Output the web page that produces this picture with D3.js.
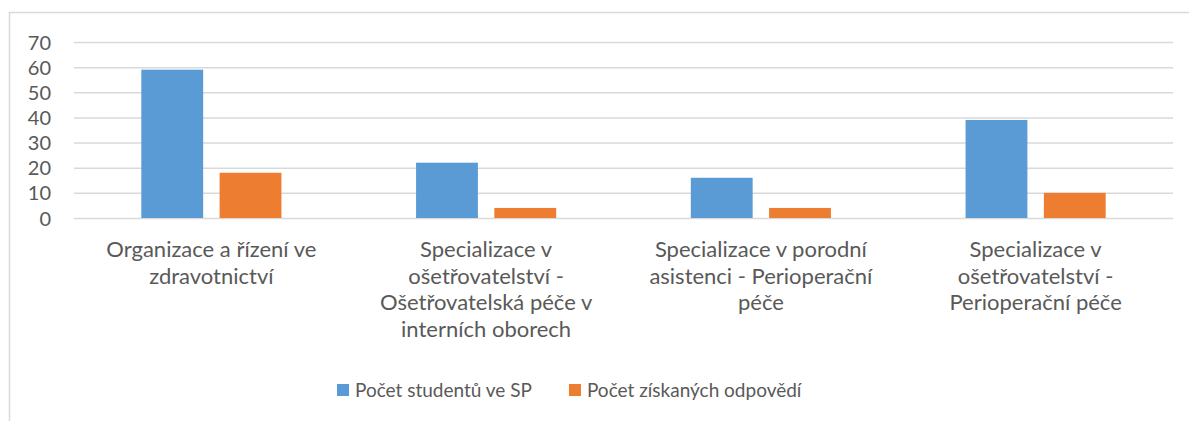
<!DOCTYPE html>
<html>
<head>
<meta charset="utf-8">
<script src="https://cdn.jsdelivr.net/npm/d3@7"></script>
<style>
  body { margin: 0; background: #fff; }
  text { font-family: Lato, "Open Sans", sans-serif; fill: #595959; }
</style>
</head>
<body>
<div id="chart"></div>
<script>
const width = 1189;
const height = 421;

const categories = [
  "Organizace a řízení ve zdravotnictví",
  "Specializace v ošetřovatelství - Ošetřovatelská péče v interních oborech",
  "Specializace v porodní asistenci - Perioperační péče",
  "Specializace v ošetřovatelství - Perioperační péče"
]
const categoryLines = [
  ["Organizace a řízení ve", "zdravotnictví"],
  ["Specializace v", "ošetřovatelství -", "Ošetřovatelská péče v", "interních oborech"],
  ["Specializace v porodní", "asistenci - Perioperační", "péče"],
  ["Specializace v", "ošetřovatelství -", "Perioperační péče"]
]
const seriesNames = ["Počet studentů ve SP", "Počet získaných odpovědí"]
const studenti = [59, 22, 16, 39]
const odpovedi = [18, 4, 4, 10]
const yTicks = [0, 10, 20, 30, 40, 50, 60, 70]
const colors = ["#5B9BD5", "#ED7D31"]

const margin = { top: 42, right: 16, bottom: 203, left: 74 }

const svg = d3.select("#chart").append("svg")
              .attr("width", width)
              .attr("height", height)

// chart frame (only left and top edges visible in the crop)
svg.append("rect")
   .attr("x", 9.5)
   .attr("y", 12.5)
   .attr("width", 1400)
   .attr("height", 600)
   .attr("fill", "none")
   .attr("stroke", "#d9d9d9")
   .attr("stroke-width", 1.5)

const data = categories.map((c, i) => ({ cat: c, values: [studenti[i], odpovedi[i]] }))

const x0 = d3.scaleBand()
             .domain(categories)
             .range([margin.left, width - margin.right])
             .paddingInner(0.49)
             .paddingOuter(0.245)

const x1 = d3.scaleBand()
             .domain(seriesNames)
             .range([0, x0.bandwidth()])
             .paddingInner(0.21)

const y = d3.scaleLinear()
            .domain([0, 70])
            .range([height - margin.bottom, margin.top])

const gy = svg.append("g")
              .attr("transform", `translate(${margin.left}, 0)`)
              .call(d3.axisLeft(y)
                      .tickValues(yTicks)
                      .tickSize(-(width - margin.right - margin.left))
                      .tickPadding(23))

gy.select(".domain").remove()
gy.selectAll(".tick line")
  .attr("stroke", "#d9d9d9")
  .attr("stroke-width", 1.5)
gy.selectAll(".tick text")
  .style("font-size", "20px")
  .attr("fill", "#595959")
  .attr("dy", "0.35em")

const groups = svg.selectAll("g.cat")
                  .data(data)
                  .enter()
                  .append("g")
                  .attr("class", "cat")
                  .attr("transform", d => `translate(${x0(d.cat)}, 0)`)

groups.selectAll("rect")
      .data(d => d.values.map((v, i) => ({ key: seriesNames[i], value: v, i: i })))
      .enter()
      .append("rect")
      .attr("x", d => x1(d.key))
      .attr("y", d => y(d.value))
      .attr("width", x1.bandwidth())
      .attr("height", d => y(0) - y(d.value))
      .attr("fill", d => colors[d.i])

// category labels
svg.selectAll("text.cat-label")
   .data(data)
   .enter()
   .append("text")
   .attr("class", "cat-label")
   .attr("text-anchor", "middle")
   .style("font-size", "22px")
   .each(function(d, i) {
       const t = d3.select(this)
       categoryLines[i].forEach((line, j) => {
           t.append("tspan")
            .attr("x", x0(d.cat) + x0.bandwidth() / 2)
            .attr("y", y(0) + 39 + j * 26.5)
            .text(line)
       })
   })

// legend
const legend = svg.append("g")
                  .attr("transform", "translate(337, 384)")
let lx = 0
seriesNames.forEach((name, i) => {
    const item = legend.append("g").attr("transform", `translate(${lx}, 0)`)
    item.append("rect")
        .attr("width", 12)
        .attr("height", 12)
        .attr("fill", colors[i])
    const t = item.append("text")
                  .attr("x", 18)
                  .attr("y", 13)
                  .style("font-size", "19px")
                  .text(name)
    lx += 18 + t.node().getComputedTextLength() + 37
})
</script>
</body>
</html>
